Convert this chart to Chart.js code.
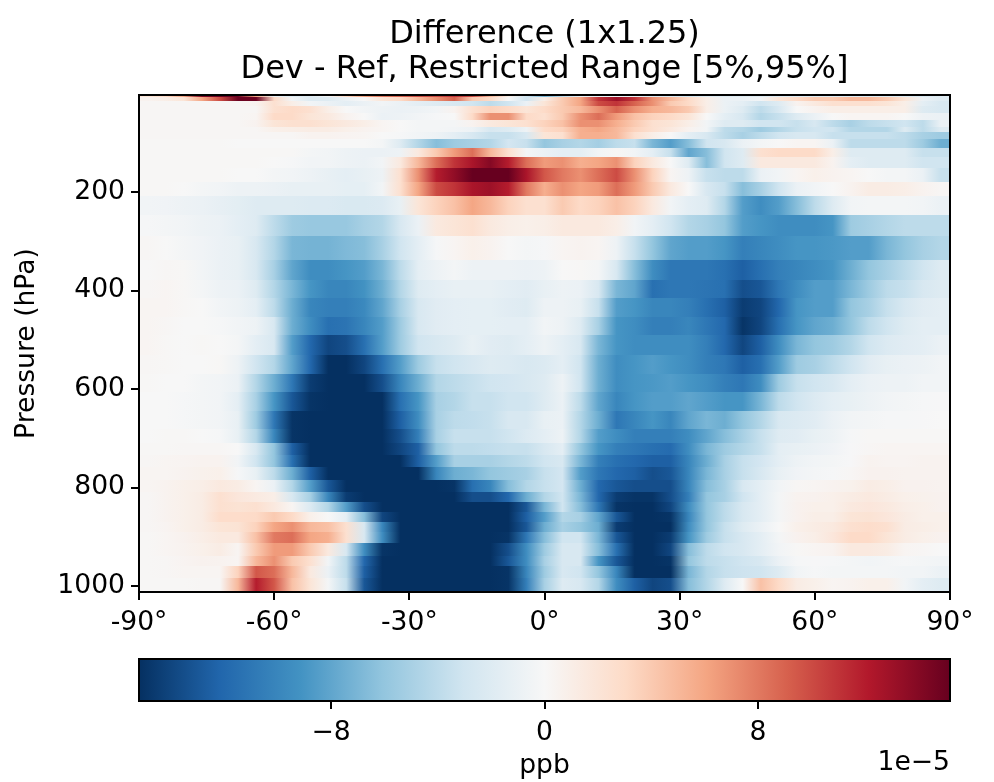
<!DOCTYPE html>
<html>
<head>
<meta charset="utf-8">
<title>Difference (1x1.25)</title>
<script src="https://cdn.jsdelivr.net/npm/chart.js@4"></script>
<style>
    body { margin: 0; background: #fff; }
    canvas { position: absolute; left: 0; }
    #heatChart { top: 0; }
    #barChart { top: 640px; }
</style>
</head>
<body>
<canvas id="heatChart" width="994" height="640"></canvas>
<canvas id="barChart" width="994" height="142"></canvas>
<script>
// --- DATA ---
const latTicks = [-90, -60, -30, 0, 30, 60, 90];
const pressureTicks = [200, 400, 600, 800, 1000];
const colorbarTicks = [-8, 0, 8];
const latCenters = [-88, -84, -80, -76, -72, -68, -64, -60, -56, -52, -48, -44, -40, -36, -32, -28, -24, -20, -16, -12, -8, -4, 0, 4, 8, 12, 16, 20, 24, 28, 32, 36, 40, 44, 48, 52, 56, 60, 64, 68, 72, 76, 80, 84, 88];
const pressureEdges = [3, 9, 17, 27, 40, 54, 68, 80, 94, 111, 129, 153, 180, 210, 247, 291, 340, 379, 417, 454, 492, 531, 570, 606, 645, 683, 710, 734, 760, 785, 811, 831, 850, 870, 892, 913, 939, 961, 984, 1012];
// RdBu_r
const colormap = ['#053061', '#2166ac', '#4393c3', '#92c5de', '#d1e5f0', '#f7f7f7', '#fddbc7', '#f4a582', '#d6604d', '#b2182b', '#67001f'];
const colorLimit = 15.2;   // units of 1e-5 ppb
// one row per pressure layer, top to bottom, in units of 1e-6 ppb
const cellValues = [
    [20,30,60,140,150,150,60,-10,-20,-20,-5,30,60,80,90,100,100,110,100,50,10,-30,-70, -40,-10,-10,-5,-10,-20,-20,-30,-20,-20,-20,-20,-20,-20,-20,-20,-20,-20,-20,-20,-25,-20],
    [5,10,20,60,100,150,150,30,-5,-20,-20,-10,0,20,30,50,70,90,40,30,0,-30,10, 40,60,110,130,110,70,50,30,10,-10,-10,-5,20,30,40,40,50,50,40,20,-10,-20],
    [2,2,2,2,2,2,5,25,10,-5,-10,-15,-10,-5,-10,-15,-20,-25,-30,-40,-30,-10,20, 40,60,100,110,90,70,40,30,10,-10,-15,-30,-20,5,15,25,25,25,20,10,-15,-25],
    [2,2,2,2,2,2,2,25,30,25,10,0,-5,-8,-10,-8,-5,5,25,35,30,20,30, 40,50,70,90,70,55,50,40,10,-10,-20,-40,-25,0,5,10,10,10,10,10,-20,-25],
    [2,2,2,2,2,2,3,30,30,20,15,5,0,-10,-8,-5,-2,0,30,70,70,30,25, 40,70,85,65,45,35,30,20,0,-15,-25,-45,-35,-20,-10,0,3,3,3,0,-8,-10],
    [2,2,2,2,2,2,5,20,25,25,20,15,10,3,0,-3,-3,-3,5,15,20,25,35, 45,70,70,55,40,25,20,10,-5,-20,-20,-30,-30,-35,-25,-40,-50,-40,-35,-30,-40,-10],
    [2,2,2,2,2,2,2,8,10,12,12,8,5,3,0,-3,-3,-5,-8,-25,-20,-8,30, 35,55,60,50,35,25,15,5,-5,-40,-45,-55,-45,-35,-30,-30,-45,-45,-45,-20,-40,-20],
    [2,2,2,2,2,2,2,2,2,5,5,4,3,0,-2,-5,-8,-15,-25,-35,-35,-25,20, 25,55,55,50,25,10,0,-15,-25,-40,-50,-40,-30,-25,-25,-35,-35,-35,-35,-40,-50,-55],
    [1,1,1,1,1,0,0,0,0,0,0,0,0,-3,-20,-45,-65,-55,-50,-45,-28,-35,-60, -50,-45,-52,-40,-35,-70,-85,-65,-30,-25,-10,-3,0,3,3,-10,-40,-40,-40,-40,-55,-75],
    [1,1,1,1,1,1,1,1,1,-3,-5,-8,-10,-10,-8,15,40,65,85,50,25,-3,-10, -15,-15,-5,2,-5,-15,-35,-80,-65,-30,-20,25,30,30,30,10,-20,-20,-20,-20,-35,-35],
    [1,1,1,1,1,1,1,0,-2,-5,-5,-8,-10,-5,15,50,85,110,125,140,120,85,65, 70,55,60,70,35,15,0,-20,-65,-30,-20,15,15,15,15,5,-15,-20,-20,-20,-30,-30],
    [1,1,1,1,1,0,0,-3,-5,-8,-12,-15,-12,-8,25,70,120,135,152,152,152,125,95, 80,70,85,100,70,35,3,-8,-35,-40,-40,-10,-5,3,8,5,3,0,-3,-3,-10,-35],
    [1,1,0,-3,-5,-8,-8,-10,-12,-12,-12,-14,-14,-5,25,60,100,110,125,130,120,80,55, 70,60,65,85,65,40,15,0,-25,-35,-65,-50,-30,-10,-5,0,5,12,12,10,5,2],
    [-5,-6,-8,-10,-13,-16,-20,-20,-20,-22,-22,-24,-24,-22,-12,20,35,45,60,50,35,25,25, 40,30,35,45,35,15,-5,-15,-20,-45,-85,-95,-85,-65,-40,-20,-5,-3,-3,-3,-5,-10],
    [-2,-3,-5,-8,-10,-15,-20,-40,-55,-58,-58,-58,-50,-45,-25,-10,15,20,25,15,10,8,10, 15,15,15,10,-5,-15,-30,-45,-50,-60,-85,-90,-95,-95,-95,-90,-55,-50,-45,-40,-40,-40],
    [2,0,-3,-6,-10,-12,-25,-45,-70,-72,-72,-68,-65,-50,-30,-15,-2,3,8,5,0,-3,-2, 3,5,3,-8,-35,-60,-80,-85,-85,-90,-105,-100,-95,-90,-90,-88,-85,-85,-70,-60,-50,-45],
    [0,2,1,-5,-10,-12,-25,-50,-80,-95,-95,-90,-85,-70,-40,-15,-8,-3,-8,-8,-8,-10,-8, 0,1,-3,-25,-65,-95,-110,-110,-110,-115,-125,-115,-105,-100,-95,-90,-75,-60,-50,-40,-30,-20],
    [2,3,1,-3,-8,-10,-20,-45,-70,-90,-100,-100,-92,-75,-45,-20,-15,-12,-12,-12,-15,-18,-12, -8,-10,-25,-70,-80,-115,-110,-110,-112,-115,-135,-130,-110,-95,-85,-85,-70,-55,-40,-35,-25,-20],
    [3,3,1,0,-5,-8,-15,-40,-75,-100,-105,-105,-98,-80,-50,-25,-18,-15,-14,-14,-18,-20,-8, -8,-12,-35,-85,-90,-100,-100,-105,-115,-125,-145,-140,-120,-90,-85,-85,-60,-50,-35,-25,-18,-15],
    [3,2,0,0,-2,-5,-8,-25,-75,-95,-115,-112,-100,-85,-55,-25,-18,-15,-14,-14,-15,-15,-5, -8,-20,-50,-90,-95,-105,-105,-100,-110,-120,-150,-140,-115,-90,-80,-75,-60,-40,-30,-20,-15,-15],
    [3,1,0,1,0,-3,-15,-25,-85,-120,-140,-135,-115,-85,-55,-30,-25,-20,-12,-18,-20,-15,-8, -15,-25,-70,-90,-95,-95,-95,-95,-105,-120,-140,-125,-95,-70,-60,-55,-45,-30,-22,-18,-15,-10],
    [2,1,0,0,1,-8,-30,-45,-80,-120,-152,-152,-140,-115,-85,-55,-35,-30,-25,-20,-22,-25,-22, -15,-30,-75,-95,-90,-85,-90,-95,-105,-110,-125,-115,-85,-55,-50,-40,-30,-18,-12,-10,-8,-5],
    [1,0,0,-3,-5,-10,-45,-75,-110,-145,-152,-152,-152,-135,-100,-75,-45,-40,-35,-30,-28,-25,-20, -8,-30,-75,-95,-90,-88,-85,-90,-95,-105,-110,-95,-55,-35,-30,-25,-15,-10,-8,-8,-5,-5],
    [0,0,-2,-3,-5,-15,-50,-90,-130,-150,-152,-152,-152,-152,-115,-90,-50,-45,-35,-35,-30,-30,-20, -10,-40,-80,-100,-90,-85,-85,-80,-85,-90,-90,-70,-40,-30,-22,-15,-12,-8,-5,-3,-2,-1],
    [0,0,-2,-3,-5,-12,-55,-110,-150,-152,-152,-152,-152,-152,-125,-95,-50,-40,-38,-35,-25,-25,-12, -10,-45,-75,-110,-100,-90,-100,-80,-70,-75,-60,-45,-25,-22,-18,-10,-5,-3,-2,-2,-1,0],
    [0,1,1,0,-2,-12,-45,-100,-150,-152,-152,-152,-152,-152,-135,-105,-50,-35,-35,-35,-30,-22,-15, -8,-45,-85,-95,-105,-105,-105,-95,-80,-65,-50,-35,-20,-18,-12,-8,-2,1,1,1,1,1],
    [1,1,2,2,2,0,-25,-60,-125,-152,-152,-152,-152,-152,-140,-125,-60,-40,-40,-38,-35,-35,-25, -15,-60,-90,-105,-110,-115,-118,-95,-70,-55,-45,-35,-15,-12,-10,-6,-1,2,3,3,3,3],
    [2,3,4,5,5,-5,-30,-60,-115,-152,-152,-152,-152,-152,-152,-125,-85,-50,-50,-50,-45,-40,-30, -25,-70,-105,-115,-120,-125,-125,-100,-75,-50,-35,-28,-15,-8,-5,-3,-1,5,4,4,5,5],
    [3,3,5,7,8,-2,-12,-40,-75,-125,-152,-152,-152,-152,-152,-152,-100,-75,-70,-60,-55,-50,-35, -28,-85,-110,-120,-125,-135,-130,-100,-70,-50,-35,-25,-12,-6,-3,-2,2,6,6,5,5,5],
    [3,5,8,10,15,12,3,-10,-45,-85,-130,-152,-152,-152,-152,-152,-152,-150,-115,-100,-65,-45,-35, -28,-75,-120,-130,-135,-135,-135,-100,-65,-50,-25,-15,-5,2,3,5,7,12,10,6,6,5],
    [2,5,8,12,25,18,14,10,-25,-50,-100,-145,-152,-152,-152,-152,-152,-152,-135,-135,-120,-75,-45, -30,-70,-120,-145,-150,-150,-135,-105,-60,-50,-30,-15,-3,5,6,8,12,15,12,8,7,6],
    [2,5,8,12,25,22,25,15,3,-22,-45,-85,-135,-152,-152,-152,-152,-152,-152,-152,-152,-130,-70, -30,-65,-110,-150,-152,-152,-140,-95,-60,-40,-25,-15,-3,6,8,8,15,18,15,10,8,6],
    [2,5,8,12,28,28,30,40,30,8,0,-15,-65,-140,-152,-152,-152,-152,-152,-152,-152,-125,-85, -45,-50,-80,-130,-152,-152,-150,-100,-60,-40,-25,-15,-3,6,10,10,20,22,18,12,8,8],
    [2,4,8,12,20,22,35,60,70,50,45,25,-25,-100,-152,-152,-152,-152,-152,-152,-152,-130,-75, -50,-60,-75,-145,-152,-152,-152,-95,-60,-35,-20,-10,0,8,12,15,25,28,25,12,10,8],
    [1,3,6,10,15,15,45,80,85,60,55,25,-25,-95,-152,-152,-152,-152,-152,-152,-150,-110,-65, -30,-30,-70,-130,-152,-152,-145,-90,-55,-35,-25,-15,-3,6,10,18,30,30,20,12,8,6],
    [1,3,5,8,12,3,40,65,65,40,15,-25,-95,-150,-152,-152,-152,-152,-152,-152,-135,-95,-55, -25,-25,-65,-115,-152,-152,-140,-65,-40,-30,-25,-15,-5,1,3,5,15,15,12,3,2,0],
    [1,2,4,6,5,3,50,70,40,25,-5,-40,-120,-152,-152,-152,-152,-152,-152,-152,-130,-95,-50, -25,-25,-90,-130,-152,-152,-150,-60,-40,-35,-30,-25,-10,-2,-1,-2,-3,-5,-3,-2,-3,-5],
    [1,2,3,3,3,35,95,85,50,15,-10,-40,-125,-152,-152,-152,-152,-152,-152,-152,-150,-100,-55, -25,-30,-60,-100,-152,-152,-152,-70,-45,-35,-32,-30,-20,-5,-2,-3,-3,-3,-3,-5,-5,-10],
    [1,1,1,2,2,50,120,95,45,20,-3,-35,-130,-152,-152,-152,-152,-152,-152,-152,-150,-105,-50, -20,-25,-45,-95,-125,-140,-135,-65,-45,-20,0,45,30,12,8,3,5,8,8,-5,-15,-20]
];

// --- HELPERS ---
function hexToRgb(h) {
    return [parseInt(h.slice(1, 3), 16), parseInt(h.slice(3, 5), 16), parseInt(h.slice(5, 7), 16)];
}

function colorFor(v) {
    const t = Math.max(0, Math.min(1, (v + colorLimit) / (2 * colorLimit))) * (colormap.length - 1);
    const i = Math.min(Math.floor(t), colormap.length - 2);
    const a = hexToRgb(colormap[i]), b = hexToRgb(colormap[i + 1]);
    const f = t - i;
    return `rgb(${a.map((c, n) => Math.round(c + f * (b[n] - c))).join(',')})`;
}

const cellPoints = [];
cellValues.forEach((row, r) => {
    row.forEach((val, c) => {
        cellPoints.push({ x: latCenters[c], y: (pressureEdges[r] + pressureEdges[r + 1]) / 2, v: val / 10, r });
    });
});

const FONT = '"DejaVu Sans"';
const tickFont = { family: FONT, size: 26.6 };

// --- HEATMAP ---
const cellPlugin = {
    id: 'cells',
    beforeDatasetsDraw(chart) {
        const { ctx, chartArea: a, scales: { x, y } } = chart;
        // each pressure layer is one band, shaded from value to value across the latitudes
        const bands = [];
        chart.data.datasets[0].data.forEach(p => {
            if (!bands[p.r]) bands[p.r] = ctx.createLinearGradient(a.left, 0, a.right, 0);
            const pos = (x.getPixelForValue(p.x) - a.left) / (a.right - a.left);
            bands[p.r].addColorStop(pos, colorFor(p.v));
        });
        bands.forEach((g, r) => {
            const y0 = Math.floor(y.getPixelForValue(pressureEdges[r]));
            const y1 = Math.ceil(y.getPixelForValue(pressureEdges[r + 1]));
            ctx.fillStyle = g;
            ctx.fillRect(a.left, y0, a.right - a.left, y1 - y0);
        });
    }
};

const framePlugin = {
    id: 'frame',
    afterDraw(chart) {
        const { ctx, chartArea: a } = chart;
        ctx.save();
        ctx.strokeStyle = '#000';
        ctx.lineWidth = 2;
        ctx.strokeRect(a.left, a.top, a.right - a.left, a.bottom - a.top);
        ctx.restore();
    }
};

new Chart(document.getElementById('heatChart'), {
    type: 'scatter',
    data: { datasets: [{ data: cellPoints, pointRadius: 0, pointHoverRadius: 0 }] },
    plugins: [cellPlugin, framePlugin],
    options: {
        responsive: false,
        animation: false,
        devicePixelRatio: 1,
        layout: { padding: { right: 44 } },
        plugins: {
            legend: { display: false },
            tooltip: { enabled: false },
            title: {
                display: true,
                fullSize: false,
                text: ['Difference (1x1.25)', 'Dev - Ref, Restricted Range [5%,95%]'],
                color: '#000',
                font: { family: FONT, size: 32, weight: 'normal', lineHeight: 1.1 },
                padding: { top: 17, bottom: 7.6 }
            }
        },
        scales: {
            x: {
                type: 'linear', min: -90, max: 90,
                afterBuildTicks: s => { s.ticks = latTicks.map(v => ({ value: v })); },
                afterFit: s => { s.height = 48; },
                border: { color: '#000', width: 2 },
                grid: { drawOnChartArea: false, color: '#000', lineWidth: 2, tickLength: 8 },
                ticks: { color: '#000', font: tickFont, maxRotation: 0, padding: 7, callback: v => v + '°' }
            },
            y: {
                type: 'linear', min: pressureEdges[0], max: pressureEdges[pressureEdges.length - 1], reverse: true,
                afterBuildTicks: s => { s.ticks = pressureTicks.map(v => ({ value: v })); },
                afterFit: s => { s.width = 139; },
                border: { color: '#000', width: 2 },
                grid: { drawOnChartArea: false, color: '#000', lineWidth: 2, tickLength: 8 },
                ticks: { color: '#000', font: tickFont, padding: 6, callback: v => String(v) },
                title: { display: true, text: 'Pressure (hPa)', color: '#000', font: tickFont, padding: { top: 11, bottom: 0 } }
            }
        }
    }
});

// --- COLORBAR ---
const rampPlugin = {
    id: 'ramp',
    beforeDatasetsDraw(chart) {
        const { ctx, chartArea: a, scales: { x } } = chart;
        const g = ctx.createLinearGradient(x.getPixelForValue(-colorLimit), 0, x.getPixelForValue(colorLimit), 0);
        colormap.forEach((c, i) => g.addColorStop(i / (colormap.length - 1), c));
        ctx.fillStyle = g;
        ctx.fillRect(a.left, a.top, a.right - a.left, a.bottom - a.top);
    },
    afterDraw(chart) {
        const { ctx, chartArea: a } = chart;
        ctx.save();
        ctx.fillStyle = '#000';
        ctx.font = `26.6px ${FONT}`;
        ctx.textAlign = 'right';
        ctx.textBaseline = 'middle';
        ctx.fillText('1e\u22125', a.right, 123);
        ctx.restore();
    }
};

new Chart(document.getElementById('barChart'), {
    type: 'scatter',
    data: { datasets: [{ data: colorbarTicks.map(v => ({ x: v, y: 0 })), pointRadius: 0, pointHoverRadius: 0 }] },
    plugins: [rampPlugin, framePlugin],
    options: {
        responsive: false,
        animation: false,
        devicePixelRatio: 1,
        layout: { padding: { left: 139, right: 44, top: 19 } },
        plugins: { legend: { display: false }, tooltip: { enabled: false } },
        scales: {
            x: {
                type: 'linear', min: -colorLimit, max: colorLimit,
                afterBuildTicks: s => { s.ticks = colorbarTicks.map(v => ({ value: v })); },
                afterFit: s => { s.height = 81; },
                border: { color: '#000', width: 2 },
                grid: { drawOnChartArea: false, color: '#000', lineWidth: 2, tickLength: 8 },
                ticks: { color: '#000', font: tickFont, maxRotation: 0, padding: 8, callback: v => String(v).replace('-', '\u2212') },
                title: { display: true, text: 'ppb', color: '#000', font: tickFont, padding: { top: 4, bottom: 0 } }
            },
            y: { display: false, min: -1, max: 1 }
        }
    }
});
</script>
</body>
</html>
